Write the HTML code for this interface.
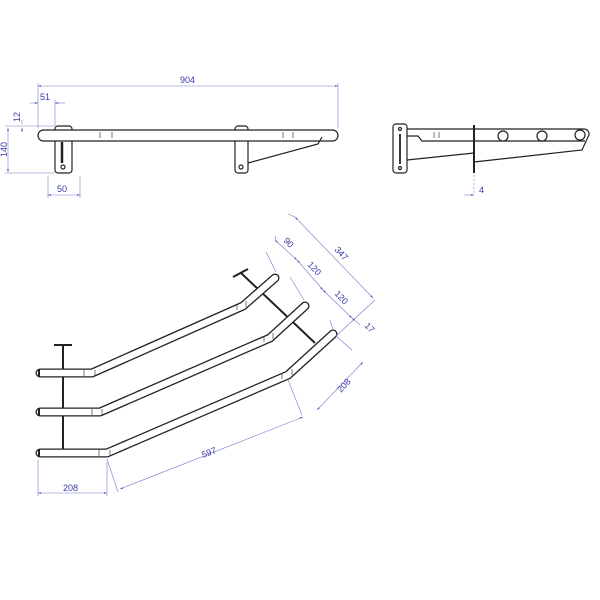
<!DOCTYPE html>
<html><head><style>
html,body{margin:0;padding:0;background:#fff;width:600px;height:600px;overflow:hidden}
svg text{font-family:"Liberation Sans",sans-serif;font-size:9px;fill:#3a3aa8}
</style></head><body>
<svg width="600" height="600" viewBox="0 0 600 600">
<defs>
<marker id="a" viewBox="0 0 10 10" refX="10" refY="5" markerWidth="5" markerHeight="5" orient="auto-start-reverse"><path d="M0,2 L10,5 L0,8z" fill="#4a4ab8"/></marker>
</defs>
<!-- TOP VIEW -->
<g fill="none" stroke="#222" stroke-width="1.2">
<rect x="55" y="126" width="17" height="47" rx="3" fill="#fff"/>
<rect x="235" y="126" width="13" height="47" rx="3" fill="#fff"/>
<rect x="38" y="130" width="300" height="11" rx="5.5" fill="#fff"/>
<path d="M248 163 L318 144 L322 137"/>
<line x1="62" y1="142" x2="62" y2="163" stroke-width="2.5"/>
<circle cx="63" cy="167" r="2"/>
<circle cx="241" cy="167" r="2"/>
<path d="M100 132v6M112 132v6M283 132v6M293 132v6" stroke-width="0.6"/>
</g>
<g stroke="#7a7ad0" stroke-width="0.6" fill="none">
<path d="M38 128V83M338 128V83M55 126V100M35 103h2M5 126h50M5 173h50M48 176v22M80 176v22M22 120v4"/>
<line x1="38" y1="86" x2="338" y2="86" marker-start="url(#a)" marker-end="url(#a)"/>
<line x1="30" y1="103" x2="38" y2="103" marker-end="url(#a)"/>
<line x1="65" y1="103" x2="55" y2="103" marker-end="url(#a)"/>
<line x1="8" y1="128" x2="8" y2="172" marker-start="url(#a)" marker-end="url(#a)"/>
<line x1="48" y1="195" x2="80" y2="195" marker-start="url(#a)" marker-end="url(#a)"/>
<line x1="22" y1="132" x2="22" y2="128" marker-end="url(#a)"/>
</g>
<text x="180" y="83">904</text>
<text x="40" y="100">51</text>
<text x="57" y="192">50</text>
<text transform="translate(20,122) rotate(-90)">12</text>
<text transform="translate(7,157) rotate(-90)">140</text>
<!-- SIDE VIEW -->
<g fill="none" stroke="#222" stroke-width="1.2">
<rect x="393" y="124" width="14" height="49" rx="3" fill="#fff"/>
<line x1="400" y1="134" x2="400" y2="164" stroke-width="1.8"/>
<circle cx="400" cy="129" r="1.5"/><circle cx="400" cy="168" r="1.5"/>
<path d="M407 129H584a5 5 0 0 1 4 8L582 150L474 162"/>
<path d="M407 136H418l4 5H474M474 141H585"/>
<line x1="407" y1="160" x2="474" y2="153"/>
<line x1="474" y1="125" x2="474" y2="173" stroke-width="2"/>
<circle cx="503" cy="136" r="5" fill="#fff"/><circle cx="542" cy="136" r="5" fill="#fff"/><circle cx="580" cy="135" r="5" fill="#fff"/>
<path d="M434 132v6M439 132v6" stroke-width="0.6"/>
</g>
<g stroke="#7a7ad0" stroke-width="0.6" fill="none">
<path d="M474 175v20" stroke-dasharray="2 2"/>
<line x1="464" y1="195" x2="474" y2="195" marker-end="url(#a)"/>
</g>
<text x="479" y="193">4</text>
<!-- PERSPECTIVE VIEW posts -->
<g stroke="#222" stroke-width="2" fill="none">
<line x1="63" y1="345" x2="63" y2="456"/>
<line x1="54" y1="345" x2="72" y2="345"/>
<line x1="241" y1="273" x2="315" y2="343"/>
<line x1="233" y1="277" x2="248" y2="269"/>
</g>
<!-- tubes -->
<g fill="none" stroke-linecap="round" stroke-linejoin="round">
<g stroke="#222" stroke-width="9">
<path d="M40 373H92L243 306L275 278"/>
<path d="M40 412H100L270 338L305 306"/>
<path d="M40 453H107L288 375L333 334"/>
</g>
<g stroke="#fff" stroke-width="6.4">
<path d="M40 373H92L243 306L275 278"/>
<path d="M40 412H100L270 338L305 306"/>
<path d="M40 453H107L288 375L333 334"/>
</g>
</g>
<g stroke="#222" stroke-width="2"><path d="M39 369v8M39 408v8M39 449v8"/></g>
<g stroke="#222" stroke-width="0.6"><path d="M84 370v6M95 370v6M92 409v6M102 409v6M99 450v6M110 450v6M237 304v6M246 301v6M264 336v6M273 333v6M282 373v6M292 369v6"/></g>
<!-- dimensions -->
<g stroke="#7a7ad0" stroke-width="0.6" fill="none">
<path d="M276 272L266 252M304 300L290 277M333 330L330 320M336 336L352 350M107 459L118 492M288 380L302 415M275 236L276 240M288 214L295 217"/>
<path d="M336 336L375 300"/>
<line x1="295" y1="217" x2="373" y2="298" marker-start="url(#a)" marker-end="url(#a)"/>
<line x1="275" y1="240" x2="297" y2="260" marker-start="url(#a)" marker-end="url(#a)"/>
<line x1="297" y1="260" x2="323" y2="290" marker-start="url(#a)" marker-end="url(#a)"/>
<line x1="323" y1="290" x2="352" y2="318" marker-start="url(#a)" marker-end="url(#a)"/>
<line x1="352" y1="318" x2="360" y2="325" marker-start="url(#a)"/>
<line x1="363" y1="362" x2="317" y2="410" marker-start="url(#a)" marker-end="url(#a)"/>
<line x1="120" y1="489" x2="303" y2="417" marker-start="url(#a)" marker-end="url(#a)"/>
<line x1="38" y1="493" x2="107" y2="493" marker-start="url(#a)" marker-end="url(#a)"/>
<path d="M38 460V496M107 462V496"/>
</g>
<text transform="translate(334,250) rotate(47)">347</text>
<text transform="translate(283,241) rotate(47)">90</text>
<text transform="translate(307,265) rotate(47)">120</text>
<text transform="translate(334,294) rotate(47)">120</text>
<text transform="translate(364,326) rotate(47)">17</text>
<text transform="translate(341,393) rotate(-47)">208</text>
<text transform="translate(203,458) rotate(-21)">597</text>
<text x="63" y="491">208</text>
</svg>
</body></html>
